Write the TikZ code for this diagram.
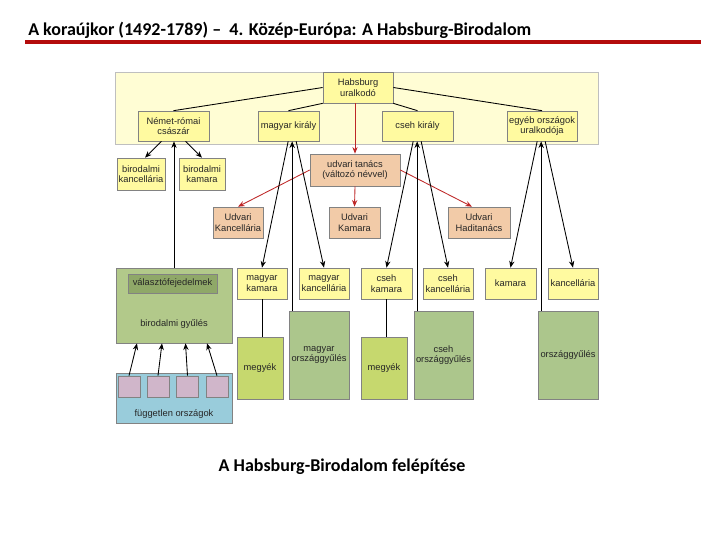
\documentclass[tikz,border=0pt]{standalone}
\usepackage{fontspec}
\setmainfont{Liberation Sans}
\newfontfamily\calibri{Carlito}
\usetikzlibrary{arrows.meta,calc}
\definecolor{bandYellow}{RGB}{255,253,212}
\definecolor{boxYellow}{RGB}{255,250,160}
\definecolor{boxSalmon}{RGB}{242,203,168}
\definecolor{dietGreen}{RGB}{178,201,138}
\definecolor{electGreen}{RGB}{143,168,104}
\definecolor{countyGreen}{RGB}{198,216,110}
\definecolor{estateGreen}{RGB}{172,198,140}
\definecolor{indepBlue}{RGB}{153,204,219}
\definecolor{stateMauve}{RGB}{208,182,202}
\definecolor{councilRed}{RGB}{190,40,40}
\definecolor{ruleRed}{RGB}{180,12,12}
\definecolor{frameGray}{RGB}{130,130,130}

\tikzset{
  sz/.style 2 args={minimum width=#1*0.75pt,minimum height=#2*0.75pt},
  box/.style={draw=frameGray,line width=0.5pt,inner sep=0pt,align=center,
    font=\fontsize{7}{7.8}\selectfont,text=black!85},
  ybox/.style={box,fill=boxYellow},
  sbox/.style={box,fill=boxSalmon},
  lbl/.style={font=\fontsize{7}{7.8}\selectfont,text=black!85,align=center},
  heading/.style={inner sep=0pt,font=\calibri\bfseries\fontsize{13.5}{15}\selectfont},
  arr/.style={-{Stealth[length=5pt,width=4pt]},line width=0.65pt},
  rarr/.style={arr,draw=councilRed},
  link/.style={line width=0.65pt},
}

\begin{document}
\begin{tikzpicture}[x=0.75pt,y=-0.75pt]
  \useasboundingbox (0,0) rectangle (720,540);
  % heading
  \node[heading,anchor=base west] (title) at (28,35)
    {A koraújkor (1492-1789) – \ 4. Közép-Európa: A Habsburg-Birodalom};
  \fill[ruleRed] (25,40) rectangle (701,44);
  \node[heading] (caption) at (342,467) {A Habsburg-Birodalom felépítése};
  % ruler band
  \filldraw[fill=bandYellow,draw=black!25] (115,72) rectangle (598,144);
  \node[ybox,sz={70}{31}] (habs) at (358,87.5) {Habsburg\\uralkodó};
  \node[ybox,sz={71}{30}] (nrcs) at (173.5,126) {Német-római\\császár};
  \node[ybox,sz={61}{30}] (mkir) at (288.5,126) {magyar király};
  \node[ybox,sz={71}{30}] (ckir) at (417.5,126) {cseh király};
  \node[ybox,sz={70}{30}] (egyeb) at (542,126) {egyéb országok\\uralkodója};
  % imperial offices
  \node[ybox,sz={48}{32}] (bkanc) at (141,174) {birodalmi\\kancellária};
  \node[ybox,sz={46}{32}] (bkam) at (202,174) {birodalmi\\kamara};
  % court offices
  \node[sbox,sz={90}{32}] (utan) at (355,170) {udvari tanács\\(változó névvel)};
  \node[sbox,sz={50}{31}] (ukanc) at (238,222.5) {Udvari\\Kancellária};
  \node[sbox,sz={51}{31}] (ukam) at (354.5,222.5) {Udvari\\Kamara};
  \node[sbox,sz={62}{31}] (uhad) at (479,222.5) {Udvari\\Haditanács};
  % country offices
  \node[ybox,sz={50}{31}] (mkam) at (262,283.5) {magyar\\kamara};
  \node[ybox,sz={50}{31}] (mkanc) at (324,283.5) {magyar\\kancellária};
  \node[ybox,sz={51}{31}] (ckam) at (386.5,283.5) {cseh\\kamara};
  \node[ybox,sz={50}{31}] (ckanc) at (448,283.5) {cseh\\kancellária};
  \node[ybox,sz={51}{31}] (ekam) at (510.5,283.5) {kamara};
  \node[ybox,sz={50}{31}] (ekanc) at (573,283.5) {kancellária};
  % estates
  \node[box,fill=dietGreen,sz={116}{75}] (bgy) at (174,305.5) {};
  \node[box,fill=electGreen,sz={89}{19}] (valf) at (172.5,283.5) {választófejedelmek};
  \node[lbl] (bgytext) at (174,324) {birodalmi gyűlés};
  \node[box,fill=countyGreen,sz={46}{62}] (mmegy) at (260,368) {megyék};
  \node[box,fill=estateGreen,sz={60}{88}] (mogy) at (319,355) {magyar\\országgyűlés};
  \node[box,fill=countyGreen,sz={46}{62}] (cmegy) at (384,368) {megyék};
  \node[box,fill=estateGreen,sz={59}{88}] (cogy) at (443.5,355) {cseh\\országgyűlés};
  \node[box,fill=estateGreen,sz={60}{88}] (eogy) at (568,355) {országgyűlés};
  % independent states
  \node[box,fill=indepBlue,sz={116}{50}] (fugg) at (174,398) {};
  \node[lbl] (fuggtext) at (174,414) {független országok};
  \foreach \i/\x in {1/129,2/158,3/187.5,4/217}
    \node[box,fill=stateMauve,sz={22}{21}] (sq\i) at (\x,386.5) {};

  % ruler to kings
  \draw[link] (habs.west) -- (nrcs.north);
  \draw[link] (habs.south west) -- (mkir.north);
  \draw[link] (habs.south east) -- (ckir.north);
  \draw[link] (habs.east) -- (egyeb.north);
  % court council
  \draw[rarr] (utan.north |- habs.south) -- (utan.north);
  \draw[rarr] (utan.west) -- (ukanc.north);
  \draw[rarr] (utan.south) -- (ukam.north);
  \draw[rarr] (utan.east) -- ($(uhad.north)+(-7,0)$);
  % emperor
  \draw[arr] ($(nrcs.south)+(-12,0)$) -- ($(bkanc.north)+(4,0)$);
  \draw[arr] ($(nrcs.south)+(12,0)$) -- (bkam.north);
  \draw[arr] (bgy.north) -- (bgy.north |- nrcs.south);
  % kings, offices and diets
  \foreach \k/\ka/\kc/\og in {mkir/mkam/mkanc/mogy,ckir/ckam/ckanc/cogy,egyeb/ekam/ekanc/eogy} {
    \coordinate (v) at ($(\og.north west)+(3.5,0)$);
    \coordinate (vtop) at (v |- \k.south);
    \draw[arr] (v) -- (vtop);
    \draw[arr] ($(vtop)+(-4,0)$) -- (\ka.north);
    \draw[arr] ($(vtop)+(4,0)$) -- (\kc.north);
  }
  \draw[link] (mkam.south) -- (mkam.south |- mmegy.north);
  \draw[link] (ckam.south) -- (ckam.south |- cmegy.north);
  % states to diet
  \foreach \i/\dx in {1/8,2/4,3/-2,4/-10}
    \draw[arr] (sq\i.north) -- ($(sq\i.north |- bgy.south)+(\dx,0)$);
\end{tikzpicture}
\end{document}
